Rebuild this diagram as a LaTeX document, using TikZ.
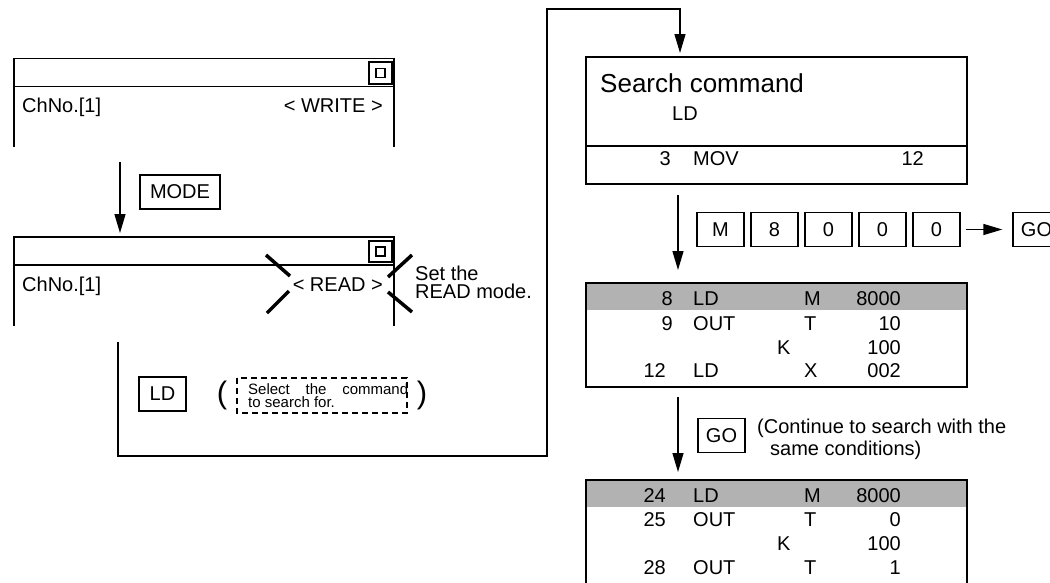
\documentclass[tikz,border=0pt]{standalone}
\usepackage{fontspec}
\setmainfont{Liberation Sans}
\usetikzlibrary{arrows.meta}
\tikzset{
  screen/.style={line width=1.5pt},
  keybox/.style={draw,line width=1.3pt,minimum width=47pt,minimum height=34pt},
  flow/.style={line width=1.3pt,-{Triangle[length=19pt,width=11pt]}},
  cross/.style={line width=3.5pt},
  notetext/.style={font=\fontsize{15pt}{12pt}\selectfont},
  paren/.style={font=\fontsize{31pt}{32pt}\selectfont}
}
\begin{document}
\begin{tikzpicture}[x=1pt,y=-1pt,
  every node/.style={font=\fontsize{20pt}{22pt}\selectfont,inner sep=0pt}]
  \useasboundingbox (0,0) rectangle (1050,582);
  \foreach \i/\t/\m in {1/58.5/WRITE,2/237/READ} {
    \draw[screen] (14,\t+88.5) -- (14,\t) -- (394,\t) -- (394,\t+88.5);
    \draw[screen] (14,\t+28) -- (394,\t+28);
    \draw[line width=2pt] (369,\t+3.5) rectangle (392,\t+25);
    \draw[line width=1.6pt] (376,\t+10) rectangle (385,\t+19);
    \node[anchor=base west] (ch\i) at (22,\t+54) {ChNo.[1]};
    \node[anchor=base east] (st\i) at (383,\t+54) {< \m{} >};
  }
  \draw[cross] (266,255) -- (290,276) (267,313) -- (289,291);
  \draw[cross] (412,255) -- (388,277) (388,292) -- (412,312);
  \node[anchor=base west] (hintA) at (415,280) {Set the};
  \node[anchor=base west] (hintB) at (415,298) {READ mode.};
  \coordinate (mA) at (120,162);
  \coordinate (mB) at (120,233);
  \draw[flow] (mA) -- (mB);
  \node[keybox,minimum width=80pt] (mode) at (180,192) {MODE};
  \coordinate (cA) at (118,342);
  \coordinate (cB) at (680,53);
  \draw[flow] (cA) -- (118,456) -- (547,456) -- (547,9) -- (680,9) -- (cB);
  \node[keybox] (ld) at (162.5,394) {LD};
  \node[paren] (pl) at (222,395.5) {(};
  \node[paren] (pr) at (422,395.5) {)};
  \draw[line width=1.3pt,dash pattern=on 6pt off 4pt] (237,378) rectangle (407,413);
  \node[notetext,anchor=base west] (selA) at (248,394.5) {\makebox[160pt][s]{Select\hfill\ the\hfill\ command}};
  \node[notetext,anchor=base west] (selB) at (248,407) {to search for.};
  \draw[screen] (586,57) rectangle (967,184);
  \draw[screen] (586,146) -- (967,146);
  \node[anchor=base west,font=\fontsize{26pt}{28pt}\selectfont] (sc) at (600,92) {Search command};
  \node[anchor=base west] (scld) at (672,120) {LD};
  \node[anchor=base east] (n3) at (671,165) {3};
  \node[anchor=base west] (mov) at (693,165) {MOV};
  \node[anchor=base east] (v12) at (924,165) {12};
  \coordinate (kA) at (678,195);
  \coordinate (kB) at (678,270);
  \draw[flow] (kA) -- (kB);
  \foreach \i/\k in {0/M,1/8,2/0,3/0,4/0}
    \node[keybox] (k\i) at (720.5+54*\i,229.5) {\k};
  \node[keybox] (go1) at (1036.5,229.5) {GO};
  \draw[flow,shorten <=5pt,shorten >=10pt] (k4) -- (go1);
  \fill[black!30] (586,283) rectangle (967,310);
  \draw[screen] (586,283) rectangle (967,387);
  \fill[black!30] (586,480) rectangle (967,507);
  \draw[screen] (586,600) -- (586,480) -- (967,480) -- (967,600);
  \foreach \y/\nx/\n/\ins/\dx/\dev/\val in {
      305/673/8/LD/804/M/8000, 330/673/9/OUT/804/T/10,
      354/673//{}/777/K/100, 377/666/12/LD/804/X/002,
      502/666/24/LD/804/M/8000, 526/666/25/OUT/804/T/0,
      550/666//{}/777/K/100, 574/666/28/OUT/804/T/1} {
    \node[anchor=base east] (n\y) at (\nx,\y) {\n};
    \node[anchor=base west] (i\y) at (693,\y) {\ins};
    \node[anchor=base west] (d\y) at (\dx,\y) {\dev};
    \node[anchor=base east] (v\y) at (901,\y) {\val};
  }
  \coordinate (gA) at (678,397);
  \coordinate (gB) at (678,472);
  \draw[flow] (gA) -- (gB);
  \node[keybox] (go2) at (721.5,435.5) {GO};
  \node[anchor=base west] (contA) at (757,433) {(Continue to search with the};
  \node[anchor=base west] (contB) at (770,455) {same conditions)};
\end{tikzpicture}
\end{document}
